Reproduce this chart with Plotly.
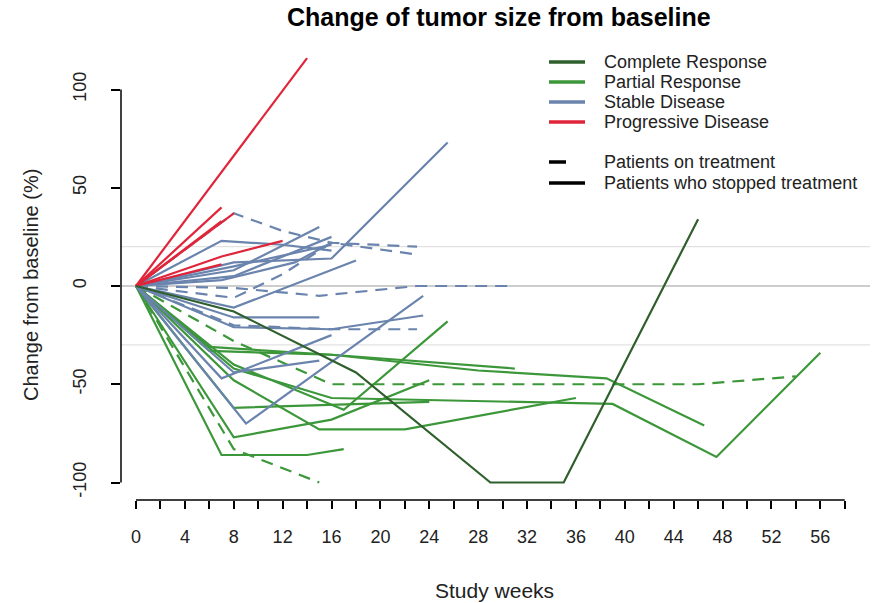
import plotly.graph_objects as go

# ---- data: tumour size change per patient (weeks on study, % change from baseline) ----
response_order = ["Complete Response", "Partial Response", "Stable Disease", "Progressive Disease"]
response_colors = ["#2f5f2c", "#3c973a", "#6a84ad", "#e0253a"]

patient_response = [
    # Partial Response
    "Partial Response", "Partial Response", "Partial Response", "Partial Response",
    "Partial Response", "Partial Response", "Partial Response", "Partial Response",
    "Partial Response", "Partial Response",
    # Stable Disease
    "Stable Disease", "Stable Disease", "Stable Disease", "Stable Disease",
    "Stable Disease", "Stable Disease", "Stable Disease", "Stable Disease",
    "Stable Disease", "Stable Disease", "Stable Disease", "Stable Disease",
    "Stable Disease", "Stable Disease", "Stable Disease", "Stable Disease",
    # Progressive Disease
    "Progressive Disease", "Progressive Disease", "Progressive Disease",
    "Progressive Disease", "Progressive Disease", "Progressive Disease",
    # Complete Response
    "Complete Response",
]

patient_on_treatment = [
    False, True, False, False, False, False, False, False, True, False,
    False, False, False, False, False, False, False, True, True, True,
    False, True, False, False, False, False,
    False, False, False, False, False, False,
    False,
]

patient_weeks = [
    [0, 7, 14, 17],
    [0, 8, 15],
    [0, 8, 16, 24],
    [0, 8, 24],
    [0, 8, 15, 22, 36],
    [0, 6, 16, 31],
    [0, 6, 16, 28, 38.5, 46.5],
    [0, 8, 16, 39, 47.5, 56],
    [0, 8, 16, 46, 54],
    [0, 8, 17, 25.5],
    [0, 7, 12, 16],
    [0, 8, 16, 25.5],
    [0, 8, 15],
    [0, 8, 16],
    [0, 8, 16],
    [0, 7, 13, 16],
    [0, 8, 18],
    [0, 8, 12, 16, 23],
    [0, 8, 12, 16, 23],
    [0, 8, 15, 23, 31],
    [0, 8, 15],
    [0, 8, 16, 23],
    [0, 8, 16, 23.5],
    [0, 9, 23.5],
    [0, 7, 16],
    [0, 8, 15],
    [0, 14],
    [0, 7],
    [0, 8],
    [0, 7],
    [0, 7, 12],
    [0, 7],
    [0, 8, 18, 29, 35, 46],
]

patient_change = [
    [0, -86, -86, -83],
    [0, -83, -100],
    [0, -77, -68, -48],
    [0, -62, -59],
    [0, -48, -73, -73, -57],
    [0, -33, -35, -42],
    [0, -31, -35, -43, -47, -71],
    [0, -42, -57, -60, -87, -34],
    [0, -28, -50, -50, -46],
    [0, -40, -63, -18],
    [0, 23, 21, 18],
    [0, 12, 14, 73],
    [0, 8, 30],
    [0, 5, 25],
    [0, 10, 21],
    [0, 3, 12, 22],
    [0, -11, 13],
    [0, 37, 28, 22, 20],
    [0, -6, 6, 22, 16],
    [0, -1, -5, 0, 0],
    [0, -16, -16],
    [0, -20, -22, -22],
    [0, -21, -22, -15],
    [0, -70, -5],
    [0, -47, -25],
    [0, -44, -38],
    [0, 116],
    [0, 40],
    [0, 37],
    [0, 33],
    [0, 15, 23],
    [0, 11],
    [0, -13, -44, -100, -100, 34],
]

x_ticks = list(range(0, 59, 2))
x_tick_labels = [str(v) if v % 4 == 0 and v <= 56 else "" for v in x_ticks]
y_ticks = [-100, -50, 0, 50, 100]
reference_levels = [20, -30]

# ---- plot geometry (pixels in an 887 x 603 page) ----
W, H = 887, 603
L, R, T, B = 121, 17, 40, 103
PW, PH = W - L - R, H - T - B


def px_x(px):
    return (px - L) / PW


def px_y(py):
    return (H - B - py) / PH


color_of = dict(zip(response_order, response_colors))
FONT = "Liberation Sans, Arial, sans-serif"

fig = go.Figure()

for weeks, change, resp, on_tx in zip(patient_weeks, patient_change,
                                     patient_response, patient_on_treatment):
    fig.add_trace(go.Scatter(
        x=weeks, y=change, mode="lines",
        line=dict(color=color_of[resp], width=2.2,
                  dash="12px,8px" if on_tx else "solid"),
        showlegend=False, hoverinfo="skip",
    ))

shapes = []
# light reference lines and the zero line
for lvl in reference_levels:
    shapes.append(dict(type="line", xref="paper", yref="y", x0=0, x1=1,
                       y0=lvl, y1=lvl, line=dict(color="#e2e2e2", width=1.2),
                       layer="below"))
shapes.append(dict(type="line", xref="paper", yref="y", x0=0, x1=1,
                   y0=0, y1=0, line=dict(color="#bdbdbd", width=1.4),
                   layer="below"))
# detached axis lines
shapes.append(dict(type="line", xref="x", yref="paper", x0=x_ticks[0], x1=x_ticks[-1],
                   y0=0, y1=0, line=dict(color="black", width=1.5)))
shapes.append(dict(type="line", xref="paper", yref="y", x0=0, x1=0,
                   y0=y_ticks[0], y1=y_ticks[-1], line=dict(color="black", width=1.5)))

annotations = []
# legend
legend_rows = [62, 82, 102, 122]
for row, name, col in zip(legend_rows, response_order, response_colors):
    shapes.append(dict(type="line", xref="paper", yref="paper",
                       x0=px_x(549), x1=px_x(585), y0=px_y(row), y1=px_y(row),
                       line=dict(color=col, width=3.5)))
    annotations.append(dict(xref="paper", yref="paper", x=px_x(602), y=px_y(row),
                            text=name, showarrow=False, xanchor="left", yanchor="middle",
                            font=dict(family=FONT, size=18, color="#222")))
shapes.append(dict(type="line", xref="paper", yref="paper",
                   x0=px_x(549), x1=px_x(566), y0=px_y(162), y1=px_y(162),
                   line=dict(color="black", width=3.5)))
shapes.append(dict(type="line", xref="paper", yref="paper",
                   x0=px_x(549), x1=px_x(585), y0=px_y(183), y1=px_y(183),
                   line=dict(color="black", width=3.5)))
for row, txt in zip([162, 183], ["Patients on treatment", "Patients who stopped treatment"]):
    annotations.append(dict(xref="paper", yref="paper", x=px_x(602), y=px_y(row),
                            text=txt, showarrow=False, xanchor="left", yanchor="middle",
                            font=dict(family=FONT, size=18, color="#222")))

# titles
annotations.append(dict(xref="paper", yref="paper", x=px_x(499), y=px_y(17),
                        text="<b>Change of tumor size from baseline</b>", showarrow=False,
                        xanchor="center", yanchor="middle",
                        font=dict(family=FONT, size=25, color="black")))
annotations.append(dict(xref="paper", yref="paper", x=px_x(494), y=px_y(590),
                        text="Study weeks", showarrow=False,
                        xanchor="center", yanchor="middle",
                        font=dict(family=FONT, size=21, color="#222")))
annotations.append(dict(xref="paper", yref="paper", x=px_x(31), y=px_y(285),
                        text="Change from baseline (%)", showarrow=False, textangle=-90,
                        xanchor="center", yanchor="middle",
                        font=dict(family=FONT, size=20, color="#222")))

x_lo = (L - 136) / 12.22
x_hi = (W - R - 136) / 12.22
y_hi = (286 - T) / 1.965
y_lo = (286 - (H - B)) / 1.965

fig.update_layout(
    width=W, height=H,
    margin=dict(l=L, r=R, t=T, b=B),
    paper_bgcolor="white", plot_bgcolor="white",
    showlegend=False,
    shapes=shapes, annotations=annotations,
    xaxis=dict(range=[x_lo, x_hi], showgrid=False, zeroline=False, showline=False,
               tickmode="array", tickvals=x_ticks, ticktext=x_tick_labels,
               ticks="outside", ticklen=8, tickwidth=1.5, tickcolor="black",
               ticklabelstandoff=12,
               tickfont=dict(family=FONT, size=18, color="#222")),
    yaxis=dict(range=[y_lo, y_hi], showgrid=False, zeroline=False, showline=False,
               tickmode="array", tickvals=y_ticks, ticktext=[str(v) for v in y_ticks],
               ticks="outside", ticklen=9, tickwidth=1.5, tickcolor="black",
               tickangle=-90, ticklabelstandoff=18,
               tickfont=dict(family=FONT, size=18, color="#222")),
)

fig.write_html("out.html")
